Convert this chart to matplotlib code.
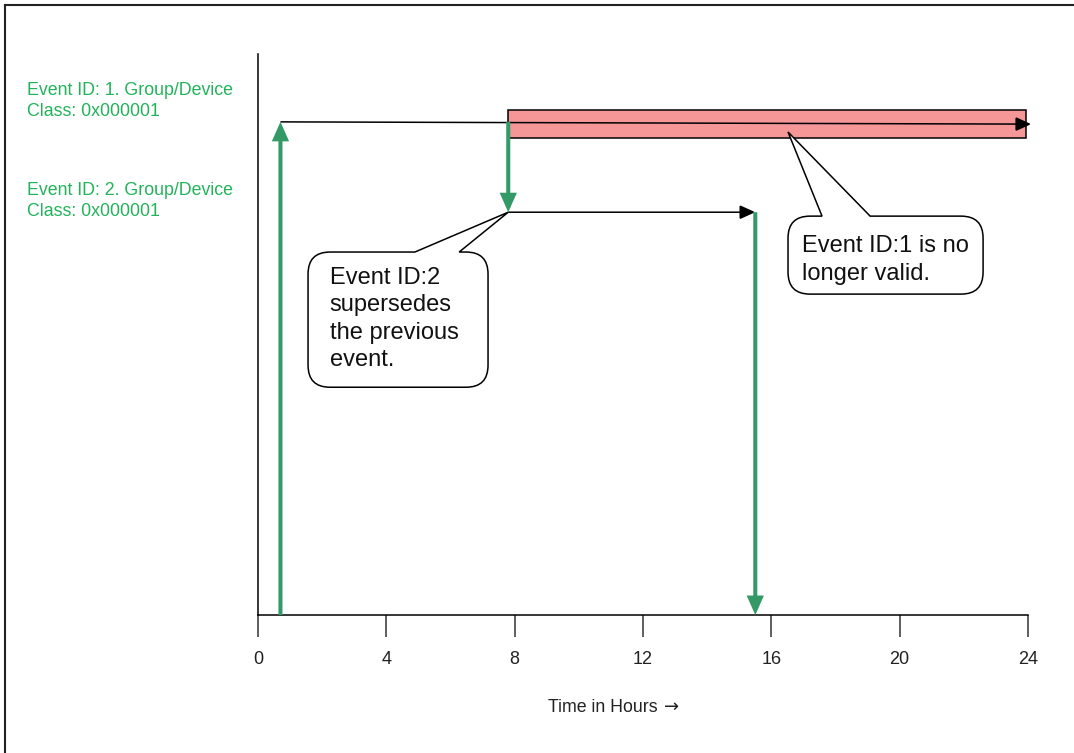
import matplotlib
matplotlib.use("Agg")
import matplotlib.pyplot as plt
from matplotlib.patches import FancyArrowPatch, Rectangle, PathPatch
from matplotlib.path import Path
from matplotlib.lines import Line2D
from matplotlib.transforms import IdentityTransform

plt.rcParams['font.family'] = ['Liberation Sans', 'DejaVu Sans']

# data (hours on x, arbitrary event level on y)
hour_ticks = [0, 4, 8, 12, 16, 20, 24]
event_labels = ["Event ID: 1. Group/Device\nClass: 0x000001",
                "Event ID: 2. Group/Device\nClass: 0x000001"]
event_start = [0.7, 7.8]        # hour the event is sent
event_end = [24.1, 15.5]        # end of the event arrow
level_start = [8.79, 7.18]
level_end = [8.75, 7.18]
superseded_at = 7.8             # event 2 replaces event 1 here
invalid_span = [7.8, 23.95]     # red block: event 1 no longer valid
invalid_band = [8.5, 9.0]

green = "#339966"
red_fill = "#F59797"

fig = plt.figure(figsize=(10.74, 7.53), dpi=100)
ax = fig.add_axes([258 / 1074, 1 - 615 / 753, 770 / 1074, 561 / 753])
ax.set_xlim(0, 24)
ax.set_ylim(0, 10)
ax.spines['top'].set_visible(False)
ax.spines['right'].set_visible(False)
for s in ['left', 'bottom']:
    ax.spines[s].set_linewidth(1.1)
    ax.spines[s].set_color('black')
ax.set_yticks([])
ax.set_xticks(hour_ticks)
ax.tick_params(axis='x', direction='out', length=16, width=1.1, color='#333333',
               labelsize=13, labelcolor='#222222', pad=10)


def arrow(p0, p1, color, lw, hl, hw, z):
    a = FancyArrowPatch(p0, p1, arrowstyle="-|>,head_length=%g,head_width=%g" % (hl, hw),
                        mutation_scale=1, lw=lw, color=color, shrinkA=0, shrinkB=0,
                        zorder=z, clip_on=False, capstyle='butt', joinstyle='miter')
    ax.add_patch(a)


# red block for the superseded part of event 1
ax.add_patch(Rectangle((invalid_span[0], invalid_band[0]), invalid_span[1] - invalid_span[0],
                       invalid_band[1] - invalid_band[0], fc=red_fill, ec='black', lw=1.1, zorder=2))

# event 1: sent, then runs to the end
arrow((event_start[0], 0), (event_start[0], level_start[0]), green, 2.9, 9, 4, 4)
arrow((event_start[0], level_start[0]), (event_end[0], level_end[0]), 'black', 1.1, 9.5, 4.3, 3)
# event 2 supersedes event 1
arrow((superseded_at, level_start[0]), (superseded_at, level_start[1]), green, 2.9, 9, 4, 4)
arrow((event_start[1], level_start[1]), (event_end[1], level_end[1]), 'black', 1.1, 9.5, 4.3, 3)
arrow((event_end[1], level_end[1]), (event_end[1], 0), green, 2.9, 9, 4, 4)


def bubble(box, base, tip, text, text_xy, r=22):
    to_px = ax.transData.transform
    x0, y0 = to_px((box[0], box[2]))
    x1, y1 = to_px((box[1], box[3]))
    bx0 = to_px((base[0], 0))[0]
    bx1 = to_px((base[1], 0))[0]
    tx, ty = to_px(tip)
    M, L, C, Z = Path.MOVETO, Path.LINETO, Path.CURVE3, Path.CLOSEPOLY
    verts = [(x0 + r, y1), (bx0, y1), (tx, ty), (bx1, y1), (x1 - r, y1),
             (x1, y1), (x1, y1 - r), (x1, y0 + r), (x1, y0), (x1 - r, y0),
             (x0 + r, y0), (x0, y0), (x0, y0 + r), (x0, y1 - r), (x0, y1), (x0 + r, y1),
             (x0 + r, y1)]
    codes = [M, L, L, L, L, C, C, L, C, C, L, C, C, L, C, C, Z]
    ax.add_patch(PathPatch(Path(verts, codes), transform=IdentityTransform(),
                           fc='white', ec='black', lw=1.1, zorder=5, clip_on=False))
    ax.text(text_xy[0], text_xy[1], text, fontsize=17, ha='left', va='center',
            linespacing=1.32, color='#111111', zorder=6)


bubble([1.56, 7.17, 4.06, 6.47], [4.89, 6.27], (superseded_at, level_start[1]),
       "Event ID:2\nsupersedes\nthe previous\nevent.", (2.24, 5.28))
bubble([16.52, 22.6, 5.72, 7.11], [17.58, 19.08], (16.52, 8.61),
       "Event ID:1 is no\nlonger valid.", (16.96, 6.33))

# event labels on the left
for lbl, yc in zip(event_labels, [101, 201]):
    fig.text(27 / 1074, 1 - yc / 753, lbl, color='#22B35A', fontsize=12.8,
             ha='left', va='center', linespacing=1.38)

fig.text(548 / 1074, 1 - 707 / 753, "Time in Hours", fontsize=12.8,
         color='#222222', ha='left', va='center')
fig.text(664 / 1074, 1 - 707 / 753, "\u2192", fontsize=13, family=['DejaVu Sans'],
         color='#222222', ha='left', va='center')

# frame (top and left edges only)
fig.add_artist(Line2D([5 / 1074, 1], [1 - 5 / 753, 1 - 5 / 753], transform=fig.transFigure,
                      color='#222222', lw=1.5))
fig.add_artist(Line2D([5 / 1074, 5 / 1074], [0, 1 - 5 / 753], transform=fig.transFigure,
                      color='#222222', lw=1.5))

fig.savefig("out.png", dpi=100)
